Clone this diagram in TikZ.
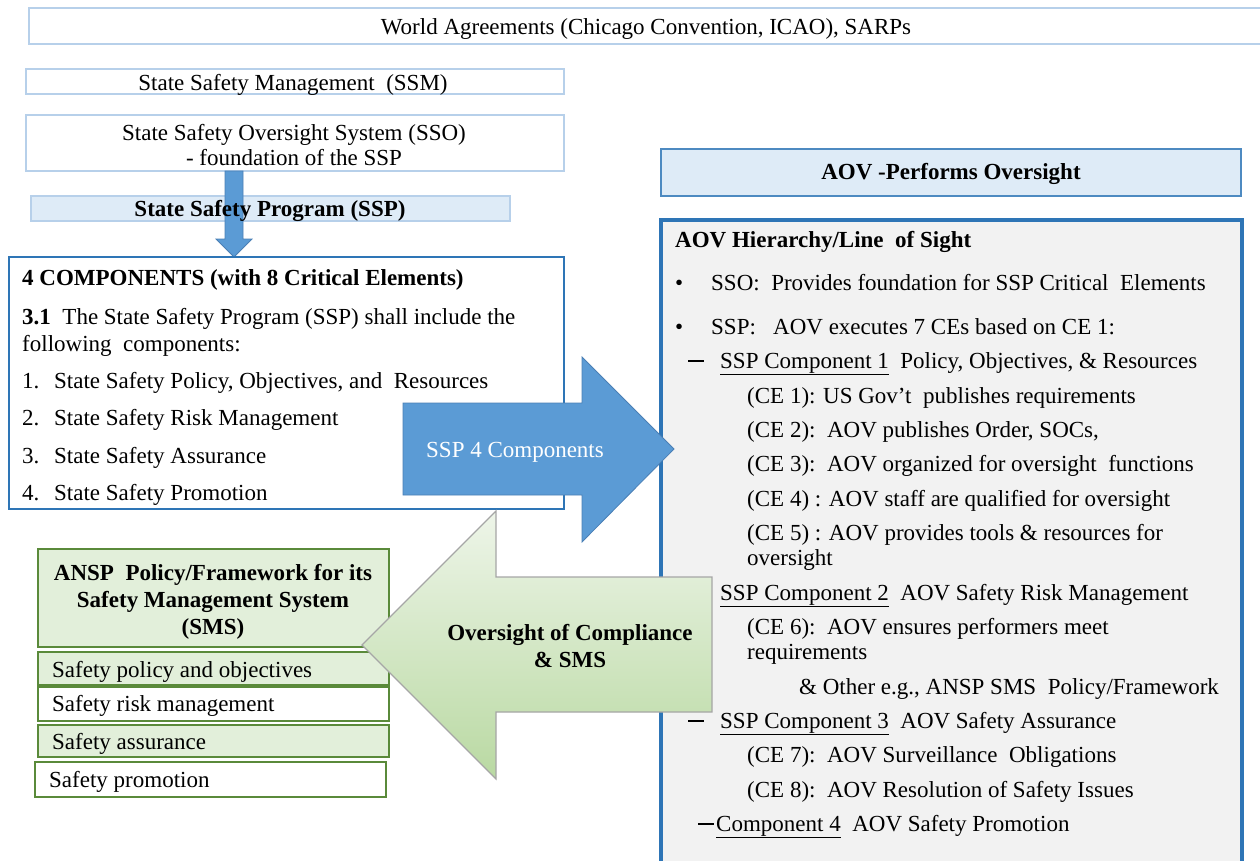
\documentclass[tikz,border=0pt]{standalone}
\usepackage{fontspec}
\setmainfont{Liberation Serif}
\definecolor{paleblue}{HTML}{DEEBF7}
\definecolor{paleedge}{HTML}{B7D0EA}
\definecolor{midblue}{HTML}{5B9BD5}
\definecolor{arrowedge}{HTML}{4A7FB5}
\definecolor{darkblue}{HTML}{2E75B6}
\definecolor{boxgray}{HTML}{F2F2F2}
\definecolor{palegreen}{HTML}{E2EFDA}
\definecolor{greenedge}{HTML}{5A8A3A}
\definecolor{greentop}{HTML}{EEF5E9}
\definecolor{greenbot}{HTML}{B9D9A2}
\definecolor{grayedge}{HTML}{A6A6A6}
\newcommand{\mydash}{\rule[6.5pt]{16pt}{1.1pt}}
\begin{document}
\begin{tikzpicture}[x=1pt,y=-1pt,
  txt/.style={inner sep=0pt, font=\fontsize{23}{25}\selectfont},
  lightbox/.style={draw=paleedge, line width=2.5pt, fill=white},
  greenbox/.style={draw=greenedge, line width=1.6pt, fill=palegreen},
  whitegreen/.style={draw=greenedge, line width=1.6pt, fill=white},
  blockblue/.style={fill=midblue, draw=arrowedge, line width=0.8pt},
  blockgreen/.style={top color=greentop, bottom color=greenbot, draw=grayedge, line width=1.2pt}
]
\useasboundingbox (0,0) rectangle (1260,860);
\clip (0,0) rectangle (1260,860);

% ---- top boxes ----
\draw[lightbox] (29,8) rectangle (1275,44);
\node[txt] (world) at (646,29) {World Agreements (Chicago Convention, ICAO), SARPs};

\draw[lightbox, line width=2pt] (26,69) rectangle (564,94);
\node[txt] (ssm) at (293,85) {State Safety Management\ \ (SSM)};

\draw[lightbox, line width=2pt] (26,115) rectangle (564,171);
\node[txt, align=center] (sso) at (294,145) {State Safety Oversight System (SSO)\\- foundation of the SSP};

\draw[draw=paleedge, line width=2pt, fill=paleblue] (31,196) rectangle (510,221);

% down arrow
\draw[blockblue] (225,171) -- (243,171) -- (243,239) -- (252,239) -- (234,257) -- (216,239) -- (225,239) -- cycle;
\node[txt, font=\fontsize{23}{25}\selectfont\bfseries] (ssp) at (270,211) {State Safety Program (SSP)};

% ---- components box ----
\draw[draw=darkblue, line width=1.6pt, fill=white] (9,257) rectangle (564,509);
\node[txt, anchor=base west, font=\fontsize{23}{25}\selectfont\bfseries] (c0) at (22,285) {4 COMPONENTS (with 8 Critical Elements)};
\node[txt, anchor=base west] (c1) at (22,324) {\textbf{3.1}\ \ The State Safety Program (SSP) shall include the};
\node[txt, anchor=base west] (c2) at (22,351) {following\ \ components:};
\node[txt, anchor=base west] (n1) at (22,388) {1.};
\node[txt, anchor=base west] (c3) at (54,388) {State Safety Policy, Objectives, and\ \ Resources};
\node[txt, anchor=base west] (n2) at (22,425) {2.};
\node[txt, anchor=base west] (c4) at (54,425) {State Safety Risk Management};
\node[txt, anchor=base west] (n3) at (22,463) {3.};
\node[txt, anchor=base west] (c5) at (54,463) {State Safety Assurance};
\node[txt, anchor=base west] (n4) at (22,500) {4.};
\node[txt, anchor=base west] (c6) at (54,500) {State Safety Promotion};

% ---- right side ----
\draw[draw=darkblue!85, line width=2pt, fill=paleblue] (661,149) rectangle (1241,196);
\node[txt, font=\fontsize{23}{25}\selectfont\bfseries] (aov) at (951,174) {AOV -Performs Oversight};

\draw[draw=darkblue, line width=3.5pt, fill=boxgray] (661,220) rectangle (1242,880);

\node[txt, anchor=base west, font=\fontsize{23}{25}\selectfont\bfseries] (r0) at (675,247) {AOV Hierarchy/Line\ \ of Sight};
\node[txt, anchor=base west] (b1) at (675,290) {•};
\node[txt, anchor=base west] (r1) at (711,290) {SSO:\ \ Provides foundation for SSP Critical\ \ Elements};
\node[txt, anchor=base west] (b2) at (675,334) {•};
\node[txt, anchor=base west] (r2) at (711,334) {SSP:\ \ \ AOV executes 7 CEs based on CE 1:};
\node[txt, anchor=base west] (d1) at (688,368) {\mydash};
\node[txt, anchor=base west] (r3) at (720,368) {\underline{SSP Component 1}\ \ Policy, Objectives, \& Resources};
\node[txt, anchor=base west] (r4) at (747,403) {(CE 1): US Gov’t\ \ publishes requirements};
\node[txt, anchor=base west] (r5) at (747,437) {(CE 2):\ \ AOV publishes Order, SOCs,};
\node[txt, anchor=base west] (r6) at (747,471) {(CE 3):\ \ AOV organized for oversight\ \ functions};
\node[txt, anchor=base west] (r7) at (747,506) {(CE 4) : AOV staff are qualified for oversight};
\node[txt, anchor=base west] (r8) at (747,540) {(CE 5) : AOV provides tools \& resources for};
\node[txt, anchor=base west] (r8b) at (747,565) {oversight};
\node[txt, anchor=base west] (d2) at (688,600) {\mydash};
\node[txt, anchor=base west] (r9) at (720,600) {\underline{SSP Component 2}\ \ AOV Safety\ Risk Management};
\node[txt, anchor=base west] (r10) at (747,634) {(CE 6):\ \ AOV ensures performers meet};
\node[txt, anchor=base west] (r10b) at (747,659) {requirements};
\node[txt, anchor=base west] (r11) at (799,694) {\& Other e.g., ANSP SMS\ \ Policy/Framework};
\node[txt, anchor=base west] (d3) at (688,728) {\mydash};
\node[txt, anchor=base west] (r12) at (720,728) {\underline{SSP Component 3}\ \ AOV Safety Assurance};
\node[txt, anchor=base west] (r13) at (747,762) {(CE 7):\ \ AOV Surveillance\ \ Obligations};
\node[txt, anchor=base west] (r14) at (747,797) {(CE 8):\ \ AOV Resolution of Safety Issues};
\node[txt, anchor=base west] (d4) at (698,831) {\mydash};
\node[txt, anchor=base west] (r15) at (716,831) {\underline{Component 4}\ \ AOV Safety Promotion};

% ---- blue right arrow ----
\draw[blockblue] (403,403) -- (582,403) -- (582,357) -- (674,449) -- (582,542) -- (582,495) -- (403,495) -- cycle;
\node[txt, text=white] (ssp4) at (515,452) {SSP 4 Components};

% ---- ANSP boxes ----
\draw[greenbox] (38,549) rectangle (389,647);
\node[txt, align=center, font=\fontsize{23}{27}\selectfont\bfseries] (ansp) at (213,602) {ANSP\ \ Policy/Framework for its\\Safety Management System\\(SMS)};
\draw[greenbox] (38,652) rectangle (389,685);
\node[txt, anchor=base west] (s1) at (52,677) {Safety policy and objectives};
\draw[whitegreen] (38,687) rectangle (389,721);
\node[txt, anchor=base west] (s2) at (52,711) {Safety risk management};
\draw[greenbox] (38,725) rectangle (389,757);
\node[txt, anchor=base west] (s3) at (52,749) {Safety assurance};
\draw[whitegreen] (35,762) rectangle (386,797);
\node[txt, anchor=base west] (s4) at (49,787) {Safety promotion};

% ---- green left arrow ----
\draw[blockgreen] (712,577) -- (496,577) -- (496,511) -- (362,645) -- (496,779) -- (496,712) -- (712,712) -- cycle;
\node[txt, align=center, font=\fontsize{23}{27}\selectfont\bfseries] (ovs) at (570,646) {Oversight of Compliance\\\& SMS};
\end{tikzpicture}
\end{document}
